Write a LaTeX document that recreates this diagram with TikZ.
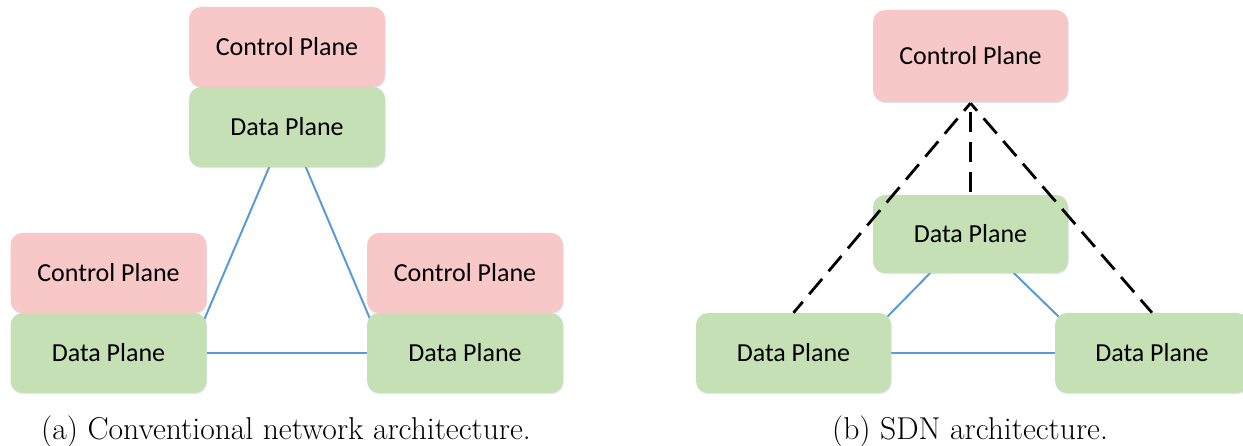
\documentclass[tikz,border=0pt]{standalone}
\usepackage{fontspec}
\newfontfamily\boxfont{Carlito}
\usetikzlibrary{calc,backgrounds,shadows}

\definecolor{ctrlpink}{RGB}{248,199,199}
\definecolor{datagreen}{RGB}{197,224,180}
\definecolor{linkblue}{RGB}{91,155,213}
\definecolor{shadowtint}{RGB}{170,185,215}

\tikzset{
  plane/.style={rectangle, rounded corners=12pt, minimum width=196pt,
    inner sep=0pt, font=\boxfont\fontsize{26}{30}\selectfont,
    drop shadow={shadow xshift=0.6pt, shadow yshift=-1.2pt, opacity=0.35, fill=shadowtint}},
  ctrlbox/.style={plane, fill=ctrlpink, minimum height=80pt},
  databox/.style={plane, fill=datagreen, minimum height=80pt},
  link/.style={draw=linkblue, line width=2pt},
  ctrllink/.style={draw=black, line width=2.8pt, dash pattern=on 20pt off 10pt},
  caption/.style={anchor=base, inner sep=0pt, font=\fontsize{31.6}{36}\selectfont}
}

\begin{document}
\begin{tikzpicture}[x=1pt, y=-1pt]
  \useasboundingbox (0,0) rectangle (1243,446);

  % conventional architecture: each device carries its own control plane
  \node[ctrlbox] (cpT) at (287,47) {Control Plane};
  \node[databox] (dpT) at (287,127) {Data Plane};
  \node[ctrlbox] (cpL) at (108.5,273) {Control Plane};
  \node[databox] (dpL) at (108.5,353) {Data Plane};
  \node[ctrlbox] (cpR) at (465,273) {Control Plane};
  \node[databox] (dpR) at (465,353) {Data Plane};

  \begin{scope}[on background layer]
    \draw[link] ($(dpT.south)+(-17,-2)$) -- ($(dpL.north east)+(-3,8)$);
    \draw[link] ($(dpT.south)+(18,-2)$) -- ($(dpR.north west)+(4,8)$);
    \draw[link] (dpL.east) -- (dpR.west);
  \end{scope}

  % SDN architecture: one logically centralised controller
  \node[ctrlbox, minimum height=92pt, minimum width=195pt] (cpS) at (970.5,56) {Control Plane};
  \node[databox, minimum height=78pt, minimum width=195pt] (dpS) at (970.5,234) {Data Plane};
  \node[databox, minimum width=195pt] (dpA) at (793.5,353) {Data Plane};
  \node[databox, minimum width=194pt] (dpB) at (1152,353) {Data Plane};

  \begin{scope}[on background layer]
    \draw[link] ($(dpS.south)+(-38.5,-2)$) -- ($(dpA.north east)+(-5,5)$);
    \draw[link] ($(dpS.south)+(41.5,-2)$) -- ($(dpB.north west)+(5,5)$);
    \draw[link] (dpA.east) -- (dpB.west);
  \end{scope}

  \coordinate (apex) at ($(cpS.south)+(0,1)$);
  \draw[ctrllink, dash phase=10pt] (apex) -- (dpA.north);
  \draw[ctrllink, dash phase=21pt] (apex) -- (dpS.north);
  \draw[ctrllink, dash phase=10pt] (apex) -- (dpB.north);

  % sub-figure captions
  \node[caption] (capa) at (286,439) {(a) Conventional network architecture.};
  \node[caption] (capb) at (970,439) {(b) SDN architecture.};
\end{tikzpicture}
\end{document}
